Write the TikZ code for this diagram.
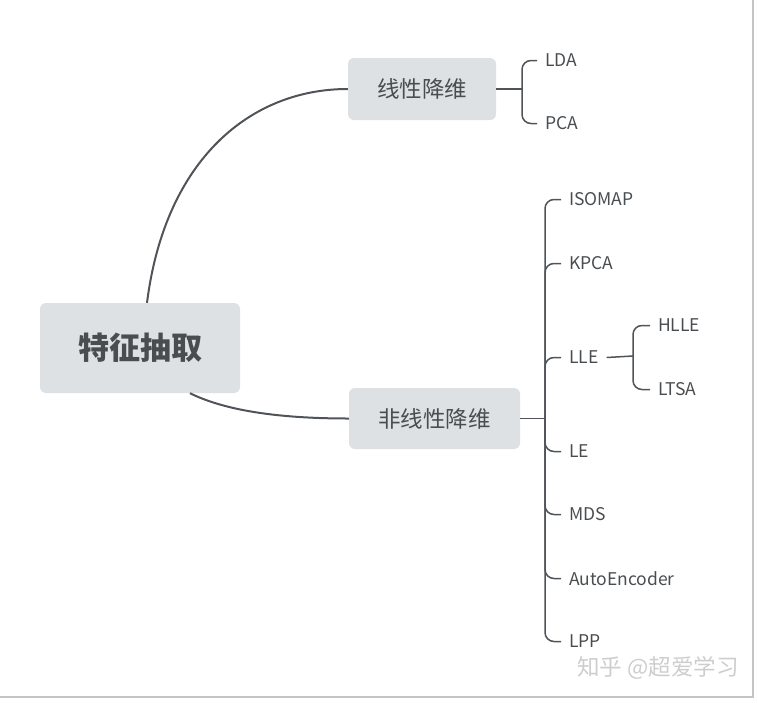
\documentclass[tikz,border=0pt]{standalone}
\usepackage{fontspec}
\setmainfont{Noto Sans CJK SC}
\usetikzlibrary{positioning}
\definecolor{boxgray}{HTML}{DDE1E4}
\definecolor{inkgray}{HTML}{4A4D50}
\definecolor{linegray}{HTML}{505458}
\definecolor{framegray}{HTML}{C4C4C4}
\definecolor{markgray}{HTML}{CDCDCD}

\begin{document}
\begin{tikzpicture}[
        x=1pt, y=-1pt,
        topic/.style={rectangle, fill=boxgray, rounded corners=6pt, text=inkgray, inner sep=0pt, font=\fontsize{22.5}{26}\selectfont},
        leaf/.style={anchor=west, inner xsep=8pt, inner ysep=0pt, text=inkgray, font=\fontsize{17.5}{20}\selectfont},
        branch/.style={draw=linegray, line width=2pt},
        brace/.style={draw=linegray, line width=1.5pt, rounded corners=9pt}
    ]
    \useasboundingbox (0,0) rectangle (758,702);
    \draw [framegray, line width=1.2pt] (753,0) -- (753,697) -- (0,697);

    % --- ROOT ---
    \node (root) [topic, minimum width=200pt, minimum height=90pt, font=\fontsize{31}{36}\selectfont\bfseries] at (140,348) {特征抽取};

    % --- LINEAR ---
    \node (lin) [topic, minimum width=148pt, minimum height=62pt] at (422,89) {线性降维};
    \node (lda) [leaf] at (537,60.5) {LDA};
    \node (pca) [leaf] at (537,123.5) {PCA};
    \coordinate (linj) at (522,89);

    % --- NONLINEAR ---
    \node (nonlin) [topic, minimum width=171pt, minimum height=61pt] at (434.5,418.5) {非线性降维};
    \coordinate (nlj) at (545,418.5);
    \foreach \name/\txt/\y in {iso/ISOMAP/199.5, kpca/KPCA/263.5, lle/LLE/357.5, le/LE/451.5, mds/MDS/514.5, ae/AutoEncoder/578.5, lpp/LPP/641.5}
        \node (\name) [leaf] at (561,\y) {\txt};

    % --- LLE ---
    \node (hlle) [leaf] at (650,325.5) {HLLE};
    \node (ltsa) [leaf] at (650,389.5) {LTSA};
    \coordinate (llej) at (633,356);

    % --- CURVES ---
    \draw [branch] ([xshift=7pt]root.north) .. controls (165,160) and (250,89) .. (lin.west);
    \draw [branch] ([xshift=50pt]root.south) .. controls (228,412) and (285,418.5) .. (nonlin.west);

    % --- BRACES ---
    \draw [brace] (lin.east) -- (linj);
    \draw [brace] (linj) |- (lda.west);
    \draw [brace] (linj) |- (pca.west);
    \draw [brace] (nonlin.east) -- (nlj);
    \foreach \name in {iso, kpca, lle, le, mds, ae, lpp}
        \draw [brace] (nlj) |- (\name.west);
    \draw [brace] (lle.east) -- (llej);
    \draw [brace] (llej) |- (hlle.west);
    \draw [brace] (llej) |- (ltsa.west);

    \node (mark) [anchor=west, inner sep=0pt, text=markgray, font=\fontsize{22.5}{26}\selectfont] at (577,668) {知乎 @超爱学习};
\end{tikzpicture}
\end{document}
